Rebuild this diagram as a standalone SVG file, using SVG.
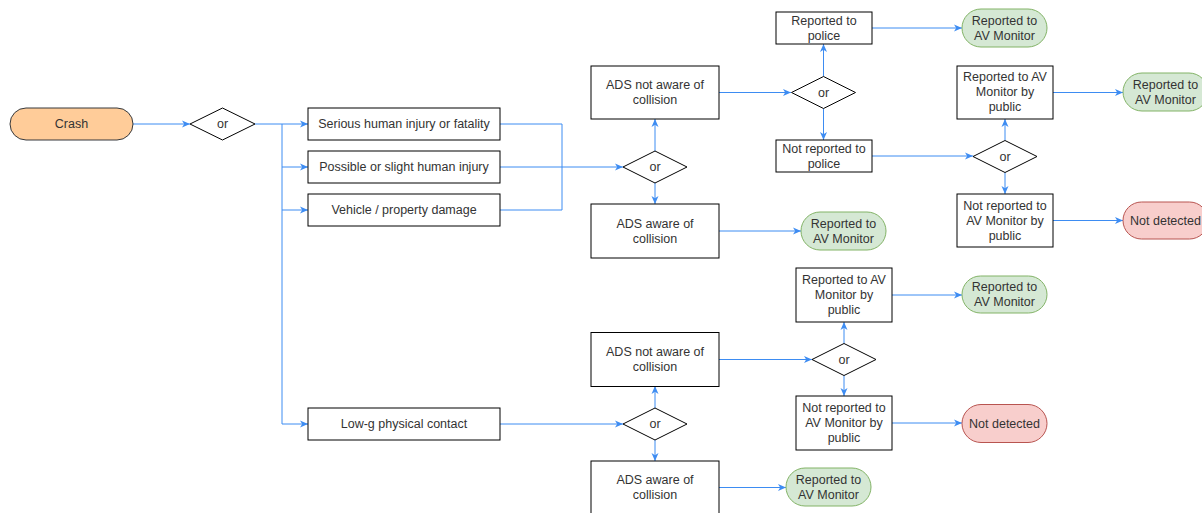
<svg xmlns="http://www.w3.org/2000/svg" width="1202" height="513" viewBox="0 0 1202 513">
<style>
.box{fill:#ffffff;stroke:#000000;stroke-width:1}
.dia{fill:#ffffff;stroke:#000000;stroke-width:1}
.start{fill:#ffcc99;stroke:#36393d;stroke-width:1}
.ok{fill:#d5e8d4;stroke:#82b366;stroke-width:1}
.bad{fill:#f8cecc;stroke:#b85450;stroke-width:1}
text{font-family:"Liberation Sans",Arial,Helvetica,sans-serif;font-size:12.5px;fill:#333333;text-anchor:middle;dominant-baseline:central}
.edge{fill:none;stroke:#3d8cf2;stroke-width:1}
.arr{marker-end:url(#ah)}
</style>
<defs>
<marker id="ah" markerUnits="userSpaceOnUse" markerWidth="10" markerHeight="9" refX="8" refY="4" orient="auto">
<path d="M0,0.5 L8,4 L0,7.5 L2.2,4 Z" fill="#3d8cf2"/>
</marker>
</defs>
<g id="connectors">
<path class="edge arr" d="M133,124 H190"/>
<path class="edge arr" d="M255,124 H308"/>
<path class="edge arr" d="M282,124 V424 H308"/>
<path class="edge arr" d="M282,167 H308"/>
<path class="edge arr" d="M282,210 H308"/>
<path class="edge" d="M500,124 H562 V210 H500"/>
<path class="edge arr" d="M500,167 H623"/>
<path class="edge arr" d="M655,151 V119"/>
<path class="edge arr" d="M655,183 V204"/>
<path class="edge arr" d="M719,92.5 H791"/>
<path class="edge arr" d="M823.5,76.5 V44"/>
<path class="edge arr" d="M823.5,108.5 V140"/>
<path class="edge arr" d="M872,28 H962"/>
<path class="edge arr" d="M872,156 H973"/>
<path class="edge arr" d="M1005,140.5 V119"/>
<path class="edge arr" d="M1005,172.5 V194"/>
<path class="edge arr" d="M1053,92.5 H1123"/>
<path class="edge arr" d="M1053,220.5 H1123"/>
<path class="edge arr" d="M719,231 H801"/>
<path class="edge arr" d="M500,424 H623"/>
<path class="edge arr" d="M655,408 V386"/>
<path class="edge arr" d="M655,440 V461"/>
<path class="edge arr" d="M719,359.5 H812"/>
<path class="edge arr" d="M844,343.5 V322"/>
<path class="edge arr" d="M844,375.5 V396"/>
<path class="edge arr" d="M892,295 H962"/>
<path class="edge arr" d="M892,423 H962"/>
<path class="edge arr" d="M719,487.5 H786"/>
</g>
<g id="crash"><rect class="start" x="10" y="108" width="123" height="32" rx="16"/><text x="71.5" y="124">Crash</text></g>
<g id="or1"><polygon class="dia" points="222.5,108 255,124 222.5,140 190,124"/><text x="222.5" y="124">or</text></g>
<g id="serious"><rect class="box" x="308" y="108" width="192" height="32"/><text x="404" y="124">Serious human injury or fatality</text></g>
<g id="possible"><rect class="box" x="308" y="151" width="192" height="32"/><text x="404" y="167">Possible or slight human injury</text></g>
<g id="vehicle"><rect class="box" x="308" y="194" width="192" height="32"/><text x="404" y="210">Vehicle / property damage</text></g>
<g id="lowg"><rect class="box" x="308" y="408" width="192" height="32"/><text x="404" y="424">Low-g physical contact</text></g>
<g id="or2"><polygon class="dia" points="655,151 687,167 655,183 623,167"/><text x="655" y="167">or</text></g>
<g id="ads-not-aware-1"><rect class="box" x="591" y="66" width="128" height="53"/><text x="655" y="85">ADS not aware of</text><text x="655" y="100">collision</text></g>
<g id="ads-aware-1"><rect class="box" x="591" y="204" width="128" height="54"/><text x="655" y="223.5">ADS aware of</text><text x="655" y="238.5">collision</text></g>
<g id="green-1"><rect class="ok" x="801" y="212" width="85" height="38" rx="19"/><text x="843.5" y="223.5">Reported to</text><text x="843.5" y="238.5">AV Monitor</text></g>
<g id="or3"><polygon class="dia" points="823.5,76.5 855.5,92.5 823.5,108.5 791.5,92.5"/><text x="823.5" y="92.5">or</text></g>
<g id="reported-police"><rect class="box" x="776" y="12" width="96" height="32"/><text x="824" y="20.5">Reported to</text><text x="824" y="35.5">police</text></g>
<g id="not-reported-police"><rect class="box" x="776" y="140" width="96" height="32"/><text x="824" y="148.5">Not reported to</text><text x="824" y="163.5">police</text></g>
<g id="green-2"><rect class="ok" x="962" y="9" width="85" height="38" rx="19"/><text x="1004.5" y="20.5">Reported to</text><text x="1004.5" y="35.5">AV Monitor</text></g>
<g id="or4"><polygon class="dia" points="1005,140.5 1037,156.5 1005,172.5 973,156.5"/><text x="1005" y="156.5">or</text></g>
<g id="reported-public-1"><rect class="box" x="957" y="66" width="96" height="53"/><text x="1005" y="77">Reported to AV</text><text x="1005" y="92">Monitor by</text><text x="1005" y="107">public</text></g>
<g id="not-reported-public-1"><rect class="box" x="957" y="194" width="96" height="53"/><text x="1005" y="205.5">Not reported to</text><text x="1005" y="220.5">AV Monitor by</text><text x="1005" y="235.5">public</text></g>
<g id="green-3"><rect class="ok" x="1123" y="73" width="85" height="38" rx="19"/><text x="1165.5" y="84.5">Reported to</text><text x="1165.5" y="99.5">AV Monitor</text></g>
<g id="red-1"><rect class="bad" x="1123" y="202" width="85" height="37" rx="18.5"/><text x="1165.5" y="220.5">Not detected</text></g>
<g id="or5"><polygon class="dia" points="655,408 687,424 655,440 623,424"/><text x="655" y="424">or</text></g>
<g id="ads-not-aware-2"><rect class="box" x="591" y="332.5" width="128" height="54"/><text x="655" y="352">ADS not aware of</text><text x="655" y="367">collision</text></g>
<g id="ads-aware-2"><rect class="box" x="591" y="461" width="128" height="54"/><text x="655" y="480">ADS aware of</text><text x="655" y="495">collision</text></g>
<g id="green-4"><rect class="ok" x="786" y="468" width="85" height="38" rx="19"/><text x="828.5" y="480">Reported to</text><text x="828.5" y="495">AV Monitor</text></g>
<g id="or6"><polygon class="dia" points="844,343.5 876,359.5 844,375.5 812,359.5"/><text x="844" y="359.5">or</text></g>
<g id="reported-public-2"><rect class="box" x="796" y="268" width="96" height="54"/><text x="844" y="280">Reported to AV</text><text x="844" y="295">Monitor by</text><text x="844" y="310">public</text></g>
<g id="not-reported-public-2"><rect class="box" x="796" y="396" width="96" height="54"/><text x="844" y="408">Not reported to</text><text x="844" y="423">AV Monitor by</text><text x="844" y="438">public</text></g>
<g id="green-5"><rect class="ok" x="962" y="276" width="85" height="37" rx="18.5"/><text x="1004.5" y="287">Reported to</text><text x="1004.5" y="302">AV Monitor</text></g>
<g id="red-2"><rect class="bad" x="962" y="404.5" width="85" height="38" rx="19"/><text x="1004.5" y="423.5">Not detected</text></g>
</svg>
